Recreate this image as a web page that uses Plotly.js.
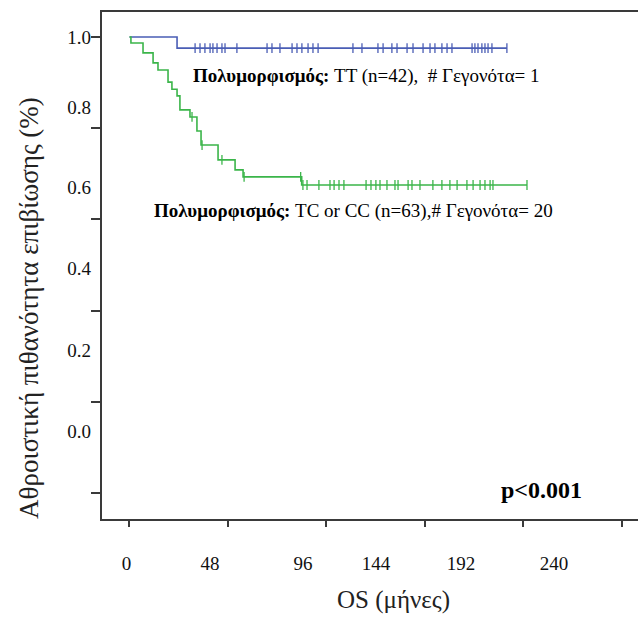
<!DOCTYPE html>
<html>
<head>
<meta charset="utf-8">
<script src="https://cdn.plot.ly/plotly-3.0.1.min.js"></script>
<style>html,body{margin:0;padding:0;background:#fff;}#chart{width:638px;height:619px;}</style>
</head>
<body>
<div id="chart"></div>
<script>
// ---- data (months, cumulative survival) ----
const ttStepTimes = [0, 23.2];
const ttStepSurv  = [1.0, 0.97];
const ttCensorTimes = [32.0, 34.4, 36.8, 39.3, 40.7, 42.7, 45.1, 46.6, 52.4, 67.1, 69.5, 73.4, 79.3, 81.7, 84.1, 87.1, 89.5, 92.0, 109.0, 113.4, 121.2, 123.7, 128.0, 130.5, 135.4, 138.3, 143.2, 146.6, 149.0, 152.4, 154.9, 157.3, 167.1, 168.5, 170.0, 171.9, 173.4, 174.9, 176.8, 184.1];

const tcStepTimes = [0, 0.7, 6.6, 11.5, 13.9, 18.8, 20.7, 23.2, 24.6, 29.5, 32.9, 34.9, 43.2, 51.5, 55.4, 84.0];
const tcStepSurv  = [1.0, 0.984, 0.957, 0.930, 0.911, 0.878, 0.859, 0.841, 0.803, 0.784, 0.746, 0.708, 0.668, 0.641, 0.622, 0.600];
const tcCensorTimes = [30.5, 35.4, 45.1, 55.9, 83.5, 84.6, 86.6, 92.4, 97.8, 99.8, 102.2, 104.6, 115.4, 117.8, 120.2, 122.2, 125.6, 129.5, 131.0, 135.9, 137.8, 141.7, 148.0, 152.4, 156.3, 159.8, 164.6, 167.6, 171.0, 173.4, 175.9, 177.3, 193.9];

const xTickVals = [0, 48, 96, 144, 192, 240];
const xTickText = ['0', '48', '96', '144', '192', '240'];
const xLabelAt  = [-1.5, 39.3, 84.6, 120.3, 161.7, 207.1];   // where the original printed its x labels
const yTickVals = [1.0, 0.7535, 0.507, 0.2605, 0.014, -0.2325];
const yTickText = ['1.0', '0.8', '0.6', '0.4', '0.2', '0.0'];
const yLabelAt  = [1.0, 0.811, 0.595, 0.376, 0.154, -0.065]; // where the original printed its y labels

const blue = '#4a5db5', green = '#3bb54a';

// survival level at a given time for a step curve
function survAt(times, surv, t) {
  let s = surv[0];
  for (let i = 0; i < times.length; i++) if (times[i] <= t) s = surv[i];
  return s;
}
function lineTrace(times, surv, endT, color) {
  return {x: times.concat([endT]), y: surv.concat([surv[surv.length-1]]), mode:'lines',
          line:{shape:'hv', color:color, width:1.6}, hoverinfo:'skip', showlegend:false};
}
function censorTrace(times, stepT, stepS, color) {
  return {x: times, y: times.map(t => survAt(stepT, stepS, t)), mode:'markers',
          marker:{symbol:'line-ns-open', size:7, color:color, line:{color:color, width:1.3}}, hoverinfo:'skip', showlegend:false};
}

const traces = [
  lineTrace(ttStepTimes, ttStepSurv, ttCensorTimes[ttCensorTimes.length-1], blue),
  lineTrace(tcStepTimes, tcStepSurv, tcCensorTimes[tcCensorTimes.length-1], green),
  censorTrace(ttCensorTimes, ttStepTimes, ttStepSurv, blue),
  censorTrace(tcCensorTimes, tcStepTimes, tcStepSurv, green),
  {x:[], y:[], xaxis:'x2', yaxis:'y2', mode:'markers', showlegend:false}
];

const L = 102, T = 12, W = 536, H = 507;
const px = x => (x - L) / W;
const py = y => (T + H - y) / H;
const xRange = [-13.41, 248.05];
const yRange = [-0.3027, 1.0676];
const serif = 'Liberation Serif, Times New Roman, serif';

const layout = {
  width: 638, height: 619,
  margin: {l: L, r: 0, t: T, b: 100},
  paper_bgcolor: '#fff', plot_bgcolor: '#fff',
  showlegend: false,
  font: {family: serif, color: '#000'},
  xaxis: {range: xRange, showgrid: false, zeroline: false, showline: true, mirror: true,
          linecolor: '#3a3a3a', linewidth: 2, ticks: 'outside', ticklen: 6, tickwidth: 2, tickcolor: '#3a3a3a',
          tickvals: xTickVals, showticklabels: false},
  yaxis: {range: yRange, showgrid: false, zeroline: false, showline: true, mirror: false,
          linecolor: '#3a3a3a', linewidth: 2, ticks: 'outside', ticklen: 9, tickwidth: 2, tickcolor: '#3a3a3a',
          tickvals: yTickVals, showticklabels: false},
  xaxis2: {overlaying: 'x', anchor: 'y', side: 'bottom', range: xRange, showgrid: false, zeroline: false,
           showline: false, ticks: '', tickvals: xLabelAt, ticktext: xTickText, ticklabelstandoff: 31,
           tickfont: {family: serif, size: 19, color: '#111'}},
  yaxis2: {overlaying: 'y', anchor: 'x', side: 'left', range: yRange, showgrid: false, zeroline: false,
           showline: false, ticks: '', tickvals: yLabelAt, ticktext: yTickText, ticklabelstandoff: 10,
           tickfont: {family: serif, size: 19, color: '#111'}},
  annotations: [
    {xref:'paper', yref:'paper', x: px(191), y: py(76), xanchor:'left', yanchor:'middle', showarrow:false,
     text:'<b>Πολυμορφισμός:</b> TT (n=42),&nbsp; # Γεγονότα= 1', font:{family: serif, size: 19, color:'#000'}},
    {xref:'paper', yref:'paper', x: px(152), y: py(211), xanchor:'left', yanchor:'middle', showarrow:false,
     text:'<b>Πολυμορφισμός:</b> TC or CC (n=63),# Γεγονότα= 20', font:{family: serif, size: 19, color:'#000'}},
    {xref:'paper', yref:'paper', x: px(499), y: py(490), xanchor:'left', yanchor:'middle', showarrow:false,
     text:'<b>p&lt;0.001</b>', font:{family: serif, size: 24, color:'#000'}},
    {xref:'paper', yref:'paper', x: px(29), y: py(308), xanchor:'center', yanchor:'middle', showarrow:false,
     textangle: -90, text:'Αθροιστική πιθανότητα επιβίωσης (%)', font:{family: serif, size: 27, color:'#222'}},
    {xref:'paper', yref:'paper', x: px(393), y: py(600), xanchor:'center', yanchor:'middle', showarrow:false,
     text:'OS (μήνες)', font:{family: serif, size: 25, color:'#222'}}
  ]
};

Plotly.newPlot('chart', traces, layout, {staticPlot: true, displayModeBar: false});
</script>
</body>
</html>
